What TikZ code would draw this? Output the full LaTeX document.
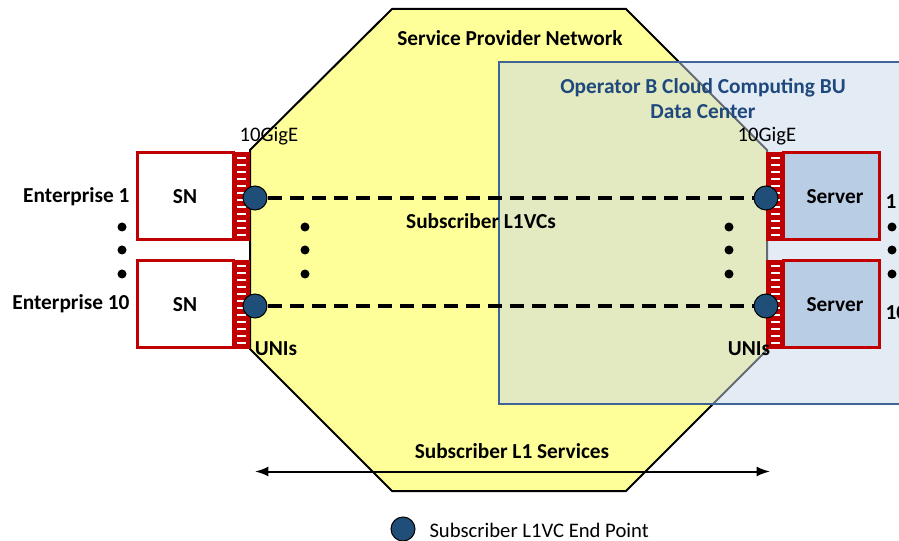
\documentclass[tikz,border=0pt]{standalone}
\usepackage{fontspec}
\setmainfont{Carlito}
\usetikzlibrary{arrows.meta}

\definecolor{spyellow}{RGB}{255,255,153}
\definecolor{dcline}{RGB}{65,100,150}
\definecolor{dcfill}{RGB}{200,215,235}
\definecolor{dctext}{RGB}{31,73,125}
\definecolor{portred}{RGB}{192,0,0}
\definecolor{srvfill}{RGB}{185,205,229}
\definecolor{uniblue}{RGB}{31,78,121}

\tikzset{every picture/.style={line width=0.75pt}}
\tikzset{
  lbl/.style={font=\fontsize{16}{18}\selectfont\bfseries, inner sep=0pt},
  plainlbl/.style={font=\fontsize{15.5}{18}\selectfont, inner sep=0pt},
  snbox/.style={draw=portred, line width=2.25pt, fill=white, minimum width=72pt, minimum height=65.25pt, inner sep=0pt, font=\fontsize{16}{18}\selectfont\bfseries},
  srvbox/.style={snbox, fill=srvfill},
  uni/.style={circle, draw=black, line width=0.75pt, fill=uniblue, minimum size=18pt, inner sep=0pt},
  vcline/.style={line width=3pt, dash pattern=on 10.5pt off 6pt},
}

\begin{document}
\begin{tikzpicture}[x=0.75pt,y=0.75pt,yscale=-1,xscale=1]
\useasboundingbox (0,0) rectangle (899,541);

%Shape: Octagon (service provider)
\draw [fill=spyellow, line width=1.5] (392,9) -- (626,9) -- (767,150) -- (767,350) -- (626,491) -- (392,491) -- (250,349) -- (250,150) -- cycle ;
\node [lbl] (spn) at (510,38) {Service Provider Network};

%Shape: Rectangle (data center)
\draw [draw=dcline, fill=dcfill, fill opacity=0.5, line width=1.5] (499,62) rectangle (910,404) ;
\node [lbl, text=dctext, align=center] (dc) at (703,98.5) {Operator B Cloud Computing BU\\[1pt]Data Center};

%Boxes
\node [snbox] (sn1) at (185,196.5) {SN};
\node [snbox] (sn10) at (185,304.5) {SN};
\node [srvbox] (srv1) at (831,196.5) {\hspace*{6pt}Server};
\node [srvbox] (srv10) at (831,304.5) {\hspace*{6pt}Server};

%Port strips
\foreach \px/\py in {233/153, 233/261, 767/153, 767/261} {
  \draw [draw=portred, fill=portred, line width=1.5] (\px,\py) rectangle ++(16,87) ;
  \foreach \k in {0,...,11}
    \fill [white] (\px+3.5,\py+4+7*\k) rectangle ++(9,2.5) ;
}

%UNI end points
\node [uni] (l1) at (255,198) {};
\node [uni] (l10) at (255,306) {};
\node [uni] (r1) at (766,198) {};
\node [uni] (r10) at (766,306) {};

%Straight Lines (L1VCs)
\draw [vcline] (l1) -- (r1) ;
\draw [vcline] (l10) -- (r10) ;

%Dots
\foreach \dx in {122,305,729,892}
  \foreach \dy in {227,250,274}
    \fill (\dx,\dy) circle (4.5) ;

% Text Node
\node [lbl, anchor=east] (ent1) at (130,197) {Enterprise 1};
\node [lbl, anchor=east] (ent10) at (130,304) {Enterprise 10};
\node [lbl, anchor=west] (n1) at (885,202) {1};
\node [lbl, anchor=west] (n10) at (885,313) {10};
\node [plainlbl] (gl) at (269,136) {10GigE};
\node [plainlbl] (gr) at (767,136) {10GigE};
\node [lbl] (unil) at (276,349) {UNIs};
\node [lbl] (unir) at (749,349) {UNIs};
\node [lbl] (vcs) at (481,221) {Subscriber L1VCs};
\node [lbl] (svc) at (512,451) {Subscriber L1 Services};

%Arrow (services)
\coordinate (svcL) at (255,471.5) ;
\coordinate (svcR) at (770,471.5) ;
\draw [{Latex[length=10pt,width=7.5pt]}-{Latex[length=10pt,width=7.5pt]}, line width=1.5] (svcL) -- (svcR) ;

%Legend
\node [uni] (key) at (403,529) {};
\node [plainlbl, anchor=west] (keytxt) at (429,530) {Subscriber L1VC End Point};

\end{tikzpicture}
\end{document}
